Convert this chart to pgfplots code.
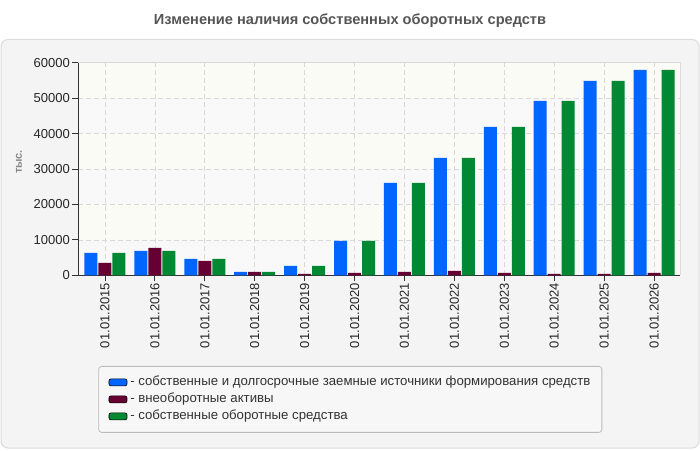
\documentclass[border=0pt]{standalone}
\usepackage{pgfplots}
\pgfplotsset{compat=1.18}
\usepackage{fontspec}
\setmainfont{Liberation Sans}

\definecolor{cblue}{HTML}{0066FF}
\definecolor{cmaroon}{HTML}{660033}
\definecolor{cgreen}{HTML}{008833}
\definecolor{panelbg}{HTML}{F4F4F4}
\definecolor{panelline}{HTML}{DCDCDC}
\definecolor{titlegray}{HTML}{555555}
\definecolor{labelgray}{HTML}{888888}
\definecolor{gridgray}{HTML}{D9D9D9}
\definecolor{bandyellow}{HTML}{FDFDF7}
\definecolor{bandgray}{HTML}{FAFAFA}
\definecolor{hatch}{HTML}{EBEBEB}
\definecolor{axisdark}{HTML}{333333}
\definecolor{legendline}{HTML}{BBBBBB}

\pgfplotsset{
  swatch/.style={
    legend image code/.code={
      \draw[##1, rounded corners=2pt, line width=0.6pt] (0pt,-3.5pt) rectangle (18pt,3.5pt);
    }
  }
}

\begin{document}
\begin{tikzpicture}
\fill[white] (0pt,0pt) rectangle (700pt,450pt);
% outer panel
\filldraw[fill=panelbg, draw=panelline, line width=1pt, rounded corners=7pt] (1pt,2pt) rectangle (699pt,410.5pt);
% title
\node[font=\bfseries\fontsize{14.6}{17}\selectfont, text=titlegray] at (350pt,429pt) {Изменение наличия собственных оборотных средств};
% unit label
\node[rotate=90, font=\bfseries\fontsize{11}{13}\selectfont, text=labelgray] at (19pt,288pt) {тыс.};

% plot area background: alternating bands with faint diagonal hatching
\fill[bandgray] (78pt,174.7pt) rectangle (680pt,387.3pt);
\fill[bandyellow] (78pt,210.13pt) rectangle (680pt,245.57pt);
\fill[bandyellow] (78pt,281.0pt) rectangle (680pt,316.43pt);
\fill[bandyellow] (78pt,351.87pt) rectangle (680pt,387.3pt);
\begin{scope}
  \clip (78pt,174.7pt) rectangle (680pt,387.3pt);
  \foreach \i in {0,...,205} {
    \draw[hatch, line width=0.4pt, opacity=0.5] ({78pt+\i*4pt-213pt},174.7pt) -- ++(213pt,213pt);
  }
\end{scope}
\draw[panelline, line width=0.8pt] (78pt,387.3pt) -- (680pt,387.3pt) -- (680pt,174.7pt);

\begin{axis}[
  scale only axis,
  width=602pt, height=212.6pt,
  at={(78pt,174.7pt)}, anchor=south west,
  xmin=-0.54, xmax=11.52,
  ymin=0, ymax=60000,
  axis lines=left,
  axis line style={-, draw=axisdark, line width=0.8pt},
  tick align=outside,
  major tick length=6pt,
  tick style={draw=axisdark, line width=0.8pt},
  xtick={0,...,11},
  xticklabels={01.01.2015,01.01.2016,01.01.2017,01.01.2018,01.01.2019,01.01.2020,01.01.2021,01.01.2022,01.01.2023,01.01.2024,01.01.2025,01.01.2026},
  xticklabel style={rotate=90, anchor=east, inner sep=1.5pt, font=\fontsize{13}{15}\selectfont, text=black!85},
  ytick={0,10000,...,60000},
  yticklabel style={inner sep=2pt, font=\fontsize{13}{15}\selectfont, text=black!85},
  scaled y ticks=false,
  /pgf/number format/assume math mode=true,
  /pgf/number format/set thousands separator={},
  grid=major,
  major grid style={draw=gridgray, dash pattern=on 5pt off 3pt, line width=0.7pt},
  ybar,
  bar width=13pt,
  legend style={
    at={(0.0337,-0.4266)}, anchor=north west,
    draw=legendline, fill=white!97!black, rounded corners=3pt,
    line width=0.8pt,
    font=\fontsize{13.2}{15}\selectfont, text=black!80,
    inner xsep=10pt, inner ysep=7.5pt,
    row sep=0pt,
    nodes={text height=10.5pt, text depth=3.5pt, inner sep=1.5pt},
  },
  legend cell align=left,
]
\addplot[fill=cblue, draw=none, bar shift=-14pt, swatch]
  coordinates {(0,6300) (1,6870) (2,4610) (3,940) (4,2630) (5,9690) (6,26060) (7,33110) (8,41860) (9,49200) (10,54840) (11,57950)};
\addplot[fill=cmaroon, draw=none, bar shift=0pt, swatch]
  coordinates {(0,3480) (1,7710) (2,4045) (3,940) (4,380) (5,660) (6,940) (7,1220) (8,660) (9,380) (10,380) (11,660)};
\addplot[fill=cgreen, draw=none, bar shift=14pt, swatch]
  coordinates {(0,6300) (1,6870) (2,4610) (3,940) (4,2630) (5,9690) (6,26060) (7,33110) (8,41860) (9,49200) (10,54840) (11,57950)};
\legend{\hspace{1.5pt}- собственные и долгосрочные заемные источники формирования средств, \hspace{1.5pt}- внеоборотные активы, \hspace{1.5pt}- собственные оборотные средства}
\end{axis}
\end{tikzpicture}
\end{document}
